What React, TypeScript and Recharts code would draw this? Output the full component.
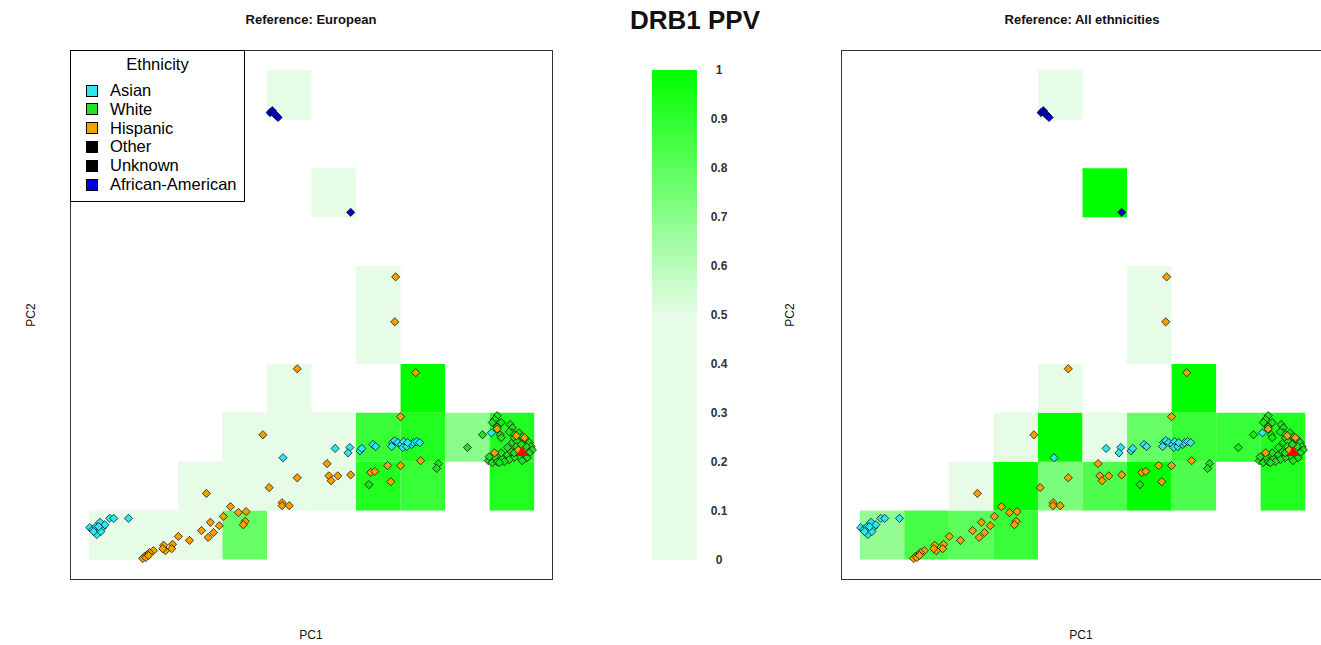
import React from "react";
import {
  ScatterChart,
  BarChart,
  Bar,
  Scatter,
  XAxis,
  YAxis,
  ReferenceArea,
  Legend,
} from "recharts";

// PCA coordinates (in grid-bin units) of each sample, by ethnicity
const asian: [number, number][] = [
  [0.02, 0.65], [0.09, 0.61], [0.16, 0.67], [0.2, 0.57], [0.25, 0.76], [0.31, 0.65],
  [0.36, 0.71], [0.18, 0.51], [0.11, 0.57], [0.27, 0.57], [0.22, 0.67],
  [0.47, 0.84], [0.56, 0.84], [0.89, 0.84],
  [4.36, 2.08], [5.53, 2.27], [5.86, 2.29], [5.82, 2.18], [6.09, 2.22], [6.13, 2.27],
  [6.38, 2.35], [6.44, 2.31], [6.82, 2.39], [6.87, 2.43], [6.94, 2.39], [7.02, 2.35],
  [7.07, 2.41], [7.05, 2.29], [7.14, 2.31], [7.25, 2.35], [7.29, 2.39], [7.36, 2.41],
  [7.43, 2.39], [7.16, 2.39], [6.8, 2.31],
  [9.04, 2.59],
];

const hispanic: [number, number][] = [
  [2.64, 1.35], [4.05, 1.47], [3.18, 1.08], [3.36, 0.96], [3.53, 0.98], [3.02, 0.88],
  [3.51, 0.78], [3.47, 0.71], [2.73, 0.76], [2.93, 0.69], [2.8, 0.55], [2.53, 0.59],
  [2.68, 0.45], [2.26, 0.39], [2.01, 0.47], [1.88, 0.31], [1.86, 0.22], [1.72, 0.18],
  [1.68, 0.29], [1.66, 0.22], [1.45, 0.18], [1.36, 0.14], [1.32, 0.1], [1.25, 0.06],
  [1.21, 0.02], [1.28, 0.04], [1.34, 0.08],
  [3.91, 2.55], [4.68, 1.67], [4.34, 1.16], [4.34, 1.1], [4.5, 1.1], [5.35, 1.96],
  [5.39, 1.71], [5.44, 1.61], [5.59, 1.71], [5.88, 1.73], [7.0, 2.92], [6.71, 1.92],
  [7.0, 1.92], [7.45, 2.02], [6.33, 1.78], [6.42, 1.8], [6.78, 1.59],
  [6.89, 5.78], [6.87, 4.86], [4.68, 3.9], [7.34, 3.82],
  [9.17, 2.67], [9.11, 2.18], [9.6, 2.53], [9.78, 2.49], [9.64, 2.24],
];

const white: [number, number][] = [
  [6.29, 1.53], [7.85, 1.96], [7.81, 1.86], [8.5, 2.29], [8.84, 2.55],
  [9.17, 2.94], [9.11, 2.86], [9.26, 2.8], [9.06, 2.8], [9.17, 2.71], [9.24, 2.55],
  [9.26, 2.49], [9.46, 2.76], [9.51, 2.69], [8.97, 2.02], [9.06, 1.98], [9.17, 2.0],
  [9.28, 2.06], [9.4, 2.14], [9.49, 2.2], [9.4, 2.29], [9.51, 2.39], [9.55, 2.49],
  [9.66, 2.59], [9.73, 2.51], [9.82, 2.45], [9.89, 2.39], [9.93, 2.31], [9.96, 2.24],
  [9.89, 2.18], [9.8, 2.12], [9.66, 2.1], [9.55, 2.08], [9.44, 2.04], [9.33, 2.0],
  [9.22, 1.98], [9.82, 2.31], [9.62, 2.41], [9.6, 2.31], [9.71, 2.35], [9.51, 2.59],
  [9.44, 2.61], [9.26, 2.18], [9.11, 2.1], [8.99, 2.1], [9.55, 2.18], [9.84, 2.08],
  [9.73, 2.02],
];

const africanAmerican: [number, number][] = [
  [4.07, 9.14], [4.12, 9.18], [4.16, 9.12], [4.21, 9.08], [4.25, 9.04], [5.88, 7.1],
];

const referenceSample: [number, number][] = [[9.73, 2.2]];

// PPV per grid cell: [column, row, ppv]
const europeanCells: [number, number, number][] = [
  [0, 0, 0], [1, 0, 0], [2, 0, 0], [3, 0, 0.78],
  [2, 1, 0], [3, 1, 0], [4, 1, 0], [5, 1, 0], [6, 1, 0.93], [7, 1, 0.88], [9, 1, 0.93],
  [3, 2, 0], [4, 2, 0], [5, 2, 0], [6, 2, 0.88], [7, 2, 0.93], [8, 2, 0.7], [9, 2, 0.93],
  [4, 3, 0], [7, 3, 1],
  [6, 4, 0], [6, 5, 0],
  [5, 7, 0],
  [4, 9, 0],
];

const allCells: [number, number, number][] = [
  [0, 0, 0.68], [1, 0, 0.85], [2, 0, 0.8], [3, 0, 0.88],
  [2, 1, 0], [3, 1, 1], [4, 1, 0.73], [5, 1, 0.83], [6, 1, 1], [7, 1, 0.83], [9, 1, 0.93],
  [3, 2, 0], [4, 2, 1], [5, 2, 0], [6, 2, 0.78], [7, 2, 0.88], [8, 2, 0.88], [9, 2, 0.93],
  [4, 3, 0], [7, 3, 1],
  [6, 4, 0], [6, 5, 0],
  [5, 7, 1],
  [4, 9, 0],
];

const legendNames = ["Asian", "White", "Hispanic", "Other", "Unknown", "African-American"];
const legendColors = ["#2ee6f0", "#22e022", "#f5a000", "#000000", "#000000", "#0000ee"];

const ppvTicks = [0, 0.1, 0.2, 0.3, 0.4, 0.5, 0.6, 0.7, 0.8, 0.9, 1];
const colorBarData = [{ name: "PPV", top: 1 }];

const FONT = "Arial, 'Liberation Sans', Helvetica, sans-serif";
const DOMAIN: [number, number] = [-0.4, 10.4];
const LOW = [230, 252, 230];
const HIGH = [0, 255, 0];
const RAMP_START = 0.5;

// flat pale green up to 0.5, then linear ramp to pure green at 1
const ppvColor = (v: number) => {
  const t = Math.max(0, (v - RAMP_START) / (1 - RAMP_START));
  const c = LOW.map((l, i) => Math.round(l + (HIGH[i] - l) * t));
  return `rgb(${c[0]},${c[1]},${c[2]})`;
};

const toPoints = (arr: [number, number][]) => arr.map(([x, y]) => ({ x, y }));

const diamond = (color: string) => (props: any) => {
  const { cx, cy } = props;
  const r = 4.1;
  return (
    <polygon
      points={`${cx},${cy - r} ${cx + r},${cy} ${cx},${cy + r} ${cx - r},${cy}`}
      fill={color}
      stroke="#000"
      strokeWidth={0.7}
    />
  );
};

const triangle = (props: any) => {
  const { cx, cy } = props;
  return (
    <polygon
      points={`${cx},${cy - 6} ${cx + 6},${cy + 4} ${cx - 6},${cy + 4}`}
      fill="#ff0000"
    />
  );
};

const EthnicityLegend = () => (
  <div
    style={{
      width: 175,
      height: 152,
      boxSizing: "border-box",
      border: "1px solid #000",
      background: "#fff",
      position: "relative",
      fontFamily: FONT,
      fontSize: 16.5,
      color: "#000",
    }}
  >
    <div style={{ position: "absolute", left: 0, right: 0, top: 3, textAlign: "center", lineHeight: "20px" }}>
      Ethnicity
    </div>
    {legendNames.map((name, i) => (
      <div
        key={name}
        style={{
          position: "absolute",
          left: 15,
          top: 30 + i * 18.8,
          height: 19,
          display: "flex",
          alignItems: "center",
          whiteSpace: "nowrap",
        }}
      >
        <span
          style={{
            display: "inline-block",
            width: 10,
            height: 10,
            background: legendColors[i],
            border: "1px solid #000",
            marginRight: 12,
          }}
        />
        {name}
      </div>
    ))}
  </div>
);

function PcaPanel({ cells, left, showLegend }: { cells: [number, number, number][]; left: number; showLegend?: boolean }) {
  return (
    <div
      style={{
        position: "absolute",
        left,
        top: 50,
        width: 481,
        height: 528,
        border: "1px solid #333",
      }}
    >
      <ScatterChart width={481} height={528} margin={{ top: 0, right: 0, bottom: 0, left: 0 }}>
        <XAxis type="number" dataKey="x" domain={DOMAIN} hide allowDataOverflow />
        <YAxis type="number" dataKey="y" domain={DOMAIN} hide allowDataOverflow />
        {cells.map(([c, r, v]) => (
          <ReferenceArea
            key={`${c}-${r}`}
            x1={c}
            x2={c + 1}
            y1={r}
            y2={r + 1}
            fill={ppvColor(v)}
            fillOpacity={1}
            stroke="none"
          />
        ))}
        <Scatter data={toPoints(white)} shape={diamond(legendColors[1])} isAnimationActive={false} />
        <Scatter data={toPoints(hispanic)} shape={diamond(legendColors[2])} isAnimationActive={false} />
        <Scatter data={toPoints(asian)} shape={diamond(legendColors[0])} isAnimationActive={false} />
        <Scatter data={toPoints(africanAmerican)} shape={diamond("#0000cc")} isAnimationActive={false} />
        <Scatter data={toPoints(referenceSample)} shape={triangle} isAnimationActive={false} />
        {showLegend && (
          <Legend
            layout="vertical"
            align="center"
            verticalAlign="middle"
            content={() => <EthnicityLegend />}
            wrapperStyle={{ left: -1, top: -1, width: 175, height: 152 }}
          />
        )}
      </ScatterChart>
    </div>
  );
}

const textStyle = (x: number, y: number, size: number, bold = false, rotate = false): React.CSSProperties => ({
  position: "absolute",
  left: x,
  top: y,
  transform: `translate(-50%, -50%)${rotate ? " rotate(-90deg)" : ""}`,
  fontFamily: FONT,
  fontSize: size,
  fontWeight: bold ? "bold" : "normal",
  whiteSpace: "nowrap",
  color: "#111",
});

const ColorTick = (props: any) => {
  const { x, y, payload } = props;
  return (
    <text x={x} y={y} dy={4} textAnchor="middle" fontFamily={FONT} fontSize={12} fontWeight="bold" fill="#333">
      {payload.value}
    </text>
  );
};

export default function App() {
  return (
    <div
      style={{
        position: "absolute",
        left: 0,
        top: 0,
        width: 1321,
        height: 645,
        overflow: "hidden",
        background: "#fff",
      }}
    >
      <div style={textStyle(311, 19, 13, true)}>Reference: European</div>
      <div style={textStyle(1082, 19, 13, true)}>Reference: All ethnicities</div>
      <div style={textStyle(695, 20, 26, true)}>DRB1 PPV</div>
      <div style={textStyle(311, 635, 12)}>PC1</div>
      <div style={textStyle(1081, 635, 12)}>PC1</div>
      <div style={textStyle(31, 315, 12, false, true)}>PC2</div>
      <div style={textStyle(790, 315, 12, false, true)}>PC2</div>

      <PcaPanel cells={europeanCells} left={70} showLegend />
      <PcaPanel cells={allCells} left={841} />

      <div style={{ position: "absolute", left: 652, top: 60 }}>
        <BarChart
          width={90}
          height={510}
          data={colorBarData}
          margin={{ top: 10, right: 0, bottom: 10, left: 0 }}
          barCategoryGap={0}
        >
          <defs>
            <linearGradient id="ppvGrad" x1="0" y1="1" x2="0" y2="0">
              <stop offset="0" stopColor={ppvColor(0)} />
              <stop offset={RAMP_START} stopColor={ppvColor(RAMP_START)} />
              <stop offset="1" stopColor={ppvColor(1)} />
            </linearGradient>
          </defs>
          <XAxis dataKey="name" hide />
          <YAxis
            type="number"
            orientation="right"
            domain={[0, 1]}
            ticks={ppvTicks}
            width={45}
            axisLine={false}
            tickLine={false}
            tickMargin={16}
            tick={<ColorTick />}
            interval={0}
          />
          <Bar dataKey="top" fill="url(#ppvGrad)" isAnimationActive={false} />
        </BarChart>
      </div>
    </div>
  );
}
